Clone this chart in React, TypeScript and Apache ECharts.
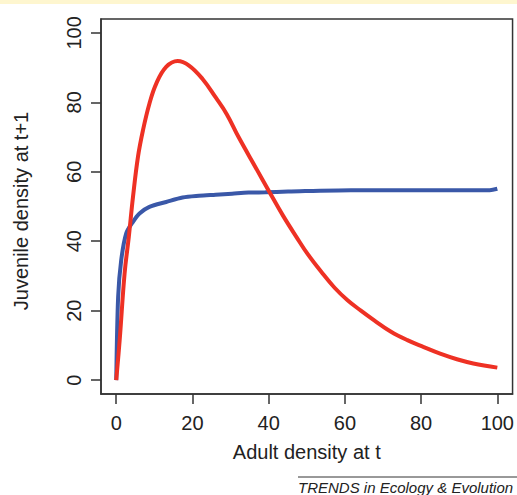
import React, { useEffect, useRef } from "react";
import * as echarts from "echarts";

const tickValues = [0, 20, 40, 60, 80, 100];

const rickerX = [0, 0.9, 2.2, 3.3, 4.4, 5.7, 7, 8.7, 10.5, 13.1, 16.1, 19.1, 22.6, 26.1, 29, 32.1, 36.5, 40.2, 43.8, 47.3, 50.3, 53.8, 57.3, 60.7, 64.2, 67.7, 72, 76.4, 80.7, 85, 89.4, 93.7, 100];
const rickerY = [0, 11.5, 30.8, 41.3, 52.8, 64.3, 71.9, 79.6, 85.4, 90.2, 91.9, 90.6, 86.8, 81.4, 76.6, 70, 61.4, 54.2, 47.3, 41.2, 36.2, 31.2, 26.6, 23, 20, 17.2, 14, 11.5, 9.5, 7.6, 6, 4.8, 3.6];

const bhX = [0, 0.5, 1.3, 2.6, 4.4, 6.1, 8.7, 13.1, 17.4, 21.7, 26.1, 30.4, 34.7, 39.1, 45.1, 61.6, 98, 100];
const bhY = [0, 24, 34.5, 42.2, 45.6, 48, 49.9, 51.3, 52.6, 53.1, 53.4, 53.7, 54, 54.1, 54.3, 54.7, 54.7, 55.1];

const xTitle = "Adult density at t";
const yTitle = "Juvenile density at t+1";
const footer = "TRENDS in Ecology & Evolution";

const FONT = "'Liberation Sans', Arial, Helvetica, sans-serif";

export default function App() {
  const ref = useRef<HTMLDivElement>(null);
  useEffect(() => {
    document.body.style.margin = "0";
    if (!ref.current) return;
    const chart = echarts.init(ref.current, undefined, { renderer: "svg" });
    const pairs = (xs: number[], ys: number[]) => xs.map((x, i) => [x, ys[i]]);
    const axisCommon = {
      type: "value" as const,
      min: -4,
      max: 104,
      splitLine: { show: false },
      axisLine: { show: true, onZero: false, lineStyle: { color: "#333", width: 1.5 } },
      axisTick: {
        show: true,
        inside: false,
        customValues: tickValues,
        length: 10,
        lineStyle: { color: "#333", width: 1.5 },
      },
      nameLocation: "middle" as const,
    };
    chart.setOption({
      animation: false,
      backgroundColor: "#ffffff",
      grid: {
        left: 101,
        top: 19,
        width: 414,
        height: 375,
        show: true,
        borderColor: "#333",
        borderWidth: 1.5,
        backgroundColor: "transparent",
      },
      xAxis: {
        ...axisCommon,
        position: "bottom",
        name: xTitle,
        nameGap: 48,
        nameTextStyle: { fontSize: 20, color: "#222", fontFamily: FONT },
        axisLabel: {
          customValues: tickValues,
          fontSize: 20,
          color: "#222",
          fontFamily: FONT,
          margin: 19,
        },
      },
      yAxis: {
        ...axisCommon,
        position: "left",
        name: yTitle,
        nameGap: 70,
        nameRotate: 90,
        nameTextStyle: { fontSize: 20, color: "#222", fontFamily: FONT, padding: [0, 9, 0, 0] },
        axisLabel: {
          customValues: tickValues,
          rotate: 90,
          fontSize: 20,
          color: "#222",
          fontFamily: FONT,
          margin: 17,
        },
      },
      series: [
        {
          type: "line",
          data: pairs(bhX, bhY),
          showSymbol: false,
          smooth: 0.3,
          lineStyle: { color: "#3A58A8", width: 4 },
          z: 2,
        },
        {
          type: "line",
          data: pairs(rickerX, rickerY),
          showSymbol: false,
          smooth: 0.4,
          lineStyle: { color: "#EE3124", width: 4 },
          z: 3,
        },
      ],
      graphic: [
        {
          type: "rect",
          left: 0,
          top: 0,
          shape: { width: 517, height: 4 },
          style: { fill: "#FEF6CF" },
        },
        {
          type: "line",
          shape: { x1: 298, y1: 477, x2: 517, y2: 477 },
          style: { stroke: "#333", lineWidth: 1 },
        },
        {
          type: "text",
          x: 298,
          y: 480,
          style: {
            text: footer,
            fontSize: 15,
            fontStyle: "italic",
            fontFamily: FONT,
            fill: "#222",
            textVerticalAlign: "top",
          },
        },
      ],
    });
    return () => chart.dispose();
  }, []);
  return <div ref={ref} style={{ width: 517, height: 495 }} />;
}
